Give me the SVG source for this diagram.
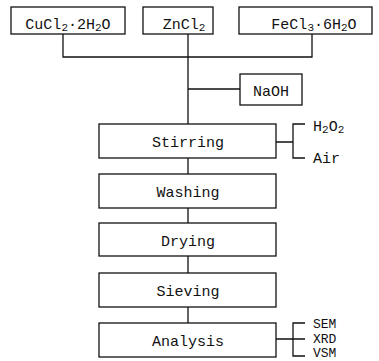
<svg xmlns="http://www.w3.org/2000/svg" width="379" height="361" viewBox="0 0 379 361">
<style>
.box{fill:#fff;stroke:#111;stroke-width:1.3}
.ln{fill:none;stroke:#111;stroke-width:1.3}
text{font-family:"Liberation Mono","DejaVu Sans Mono",monospace;fill:#111;font-size:15px}
.c{text-anchor:middle}
.s{font-size:11px}
.m{font-size:13px}
</style>
<rect width="379" height="361" fill="#fff"/>
<g id="connectors">
<path class="ln" d="M63,34V57H312V34M188,34V124M188,89H240M188,158V174M188,208V223M188,256V273M188,307V323"/>
<path class="ln" d="M276,142H293M305,124H293V158H305"/>
<path class="ln" d="M276,339H305M305,323H293V356H305"/>
</g>
<g id="cucl2"><rect class="box" x="11" y="7" width="114" height="27"/><text x="68" y="29" class="c">CuCl<tspan class="s" dy="2">2</tspan><tspan dy="-2">·2H</tspan><tspan class="s" dy="2">2</tspan><tspan dy="-2">O</tspan></text></g>
<g id="zncl2"><rect class="box" x="143" y="7" width="70" height="27"/><text x="184" y="29" class="c">ZnCl<tspan class="s" dy="2">2</tspan></text></g>
<g id="fecl3"><rect class="box" x="239" y="7" width="133" height="27"/><text x="314" y="29" class="c">FeCl<tspan class="s" dy="2">3</tspan><tspan dy="-2">·6H</tspan><tspan class="s" dy="2">2</tspan><tspan dy="-2">O</tspan></text></g>
<g id="naoh"><rect class="box" x="240" y="74" width="62" height="31"/><text x="271" y="96" class="c">NaOH</text></g>
<g id="stirring"><rect class="box" x="99" y="124" width="177" height="34"/><text x="188" y="147" class="c">Stirring</text></g>
<g id="washing"><rect class="box" x="99" y="174" width="177" height="34"/><text x="188" y="197" class="c">Washing</text></g>
<g id="drying"><rect class="box" x="99" y="223" width="177" height="33"/><text x="188" y="246" class="c">Drying</text></g>
<g id="sieving"><rect class="box" x="99" y="273" width="177" height="34"/><text x="188" y="296" class="c">Sieving</text></g>
<g id="analysis"><rect class="box" x="99" y="323" width="177" height="34"/><text x="188" y="346" class="c">Analysis</text></g>
<g id="h2o2"><text x="313" y="131">H<tspan class="s" dy="2">2</tspan><tspan dy="-2">O</tspan><tspan class="s" dy="2">2</tspan></text></g>
<g id="air"><text x="313" y="163">Air</text></g>
<g id="sem"><text x="313" y="328" class="m">SEM</text></g>
<g id="xrd"><text x="313" y="343" class="m">XRD</text></g>
<g id="vsm"><text x="313" y="357" class="m">VSM</text></g>
</svg>
